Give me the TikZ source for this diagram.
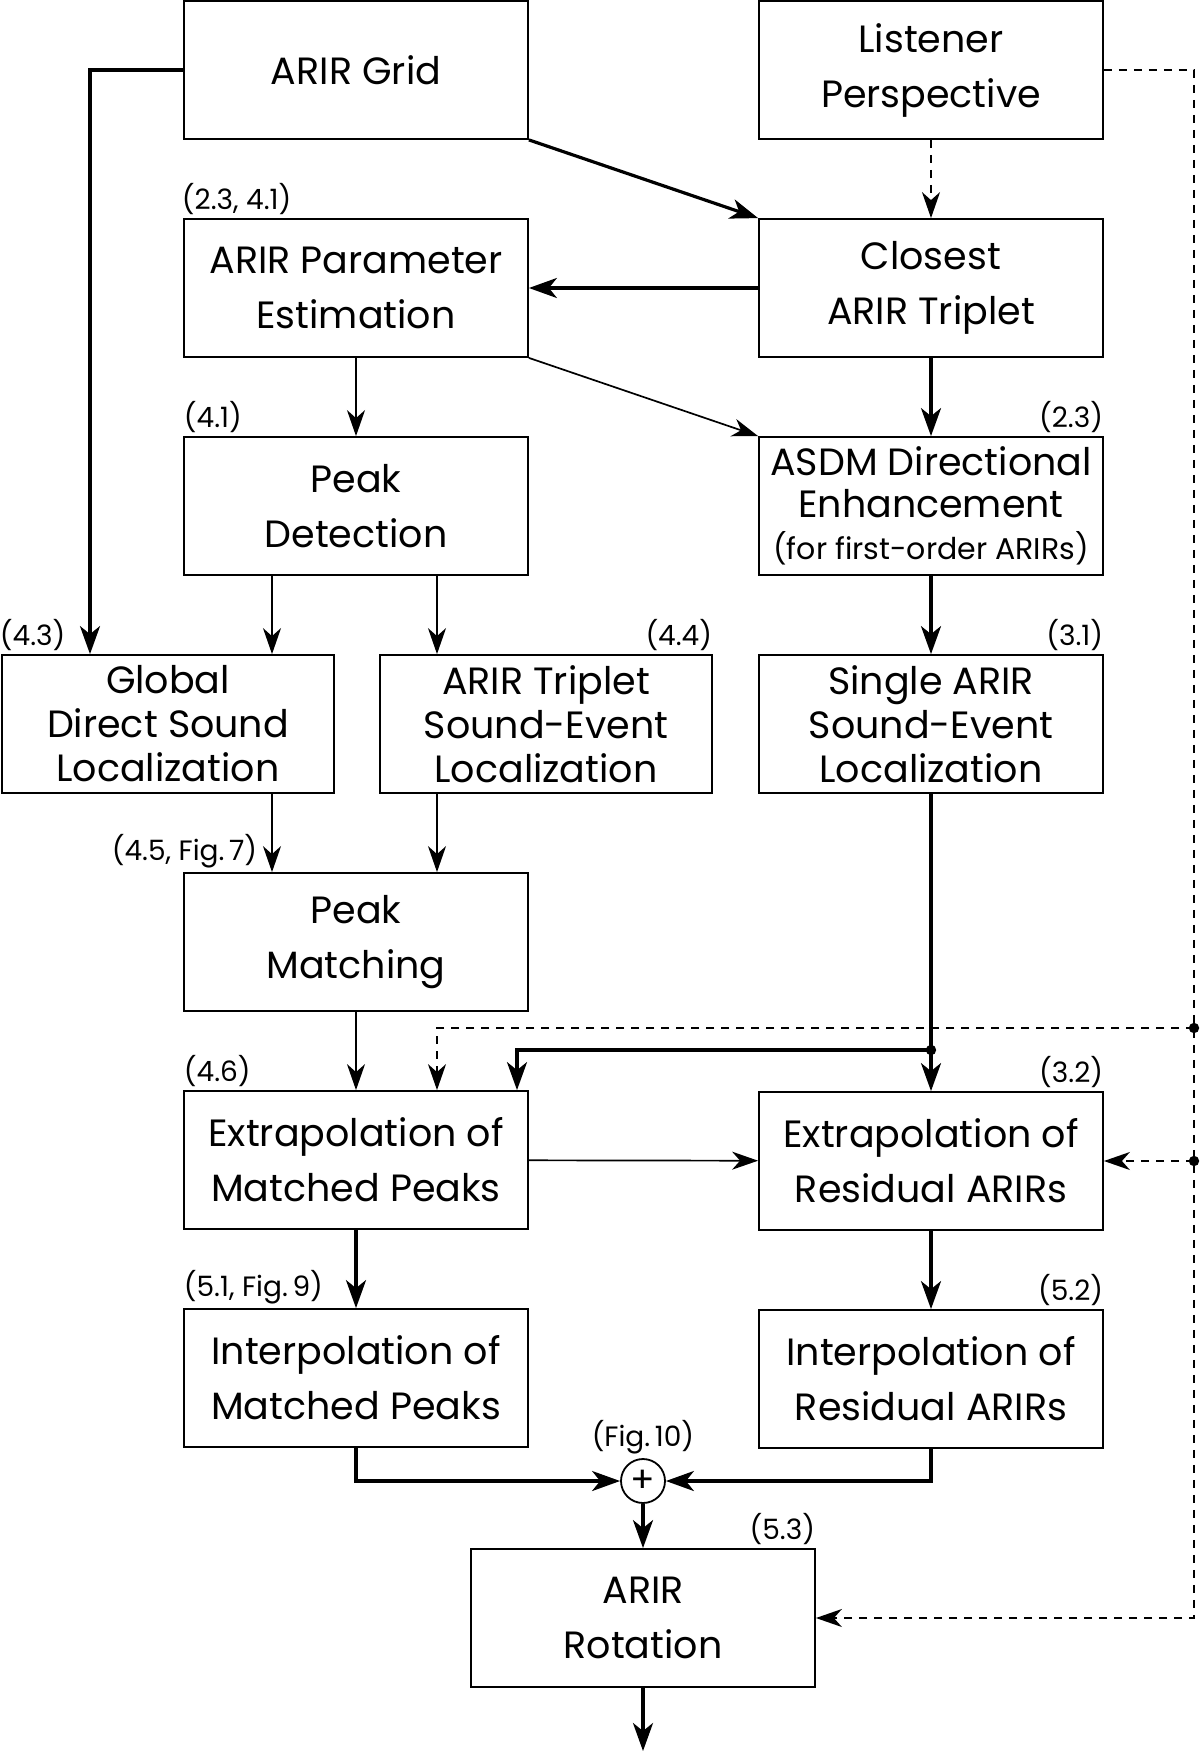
\documentclass[tikz,border=0pt]{standalone}
\usepackage{fontspec}
\setmainfont{Poppins}
\usetikzlibrary{arrows.meta}

\tikzset{
  blk/.style={draw, line width=0.9pt, minimum width=172pt, minimum height=69pt,
    inner sep=1pt, align=center, font=\fontsize{19}{27.5}\selectfont},
  blkn/.style={blk, minimum width=166pt, font=\fontsize{19}{22}\selectfont},
  blkt/.style={blk, font=\fontsize{19}{21}\selectfont},
  tag/.style={inner xsep=0pt, inner ysep=1.5pt, font=\fontsize{14}{15}\selectfont},
  thk/.style={line width=1.6pt, >={Stealth[length=14pt,width=10pt,inset=4pt]}},
  dsh/.style={line width=0.8pt, dash pattern=on 4pt off 3.5pt},
  sum/.style={circle, draw, line width=0.9pt, minimum size=22pt, inner sep=0pt,
    font=\fontsize{18}{18}\selectfont},
}

\begin{document}
\begin{tikzpicture}[x=0.5pt,y=-0.5pt,->,>={Stealth[length=13pt,width=9pt,inset=4pt]},
  line width=0.85pt,node distance=109pt]
\useasboundingbox (0,0) rectangle (1200,1751);

  % left column
  \node[blk] (grid) at (356,70)  {ARIR Grid};
  \node[blk] (param) [below of=grid]  {ARIR Parameter\\Estimation};
  \node[blk] (peak)  [below of=param] {Peak\\Detection};
  \node[blkn] (global)  [below of=peak, xshift=-94pt] {Global\\Direct Sound\\Localization};
  \node[blkn] (triplet) [below of=peak, xshift=95pt]  {ARIR Triplet\\Sound-Event\\Localization};
  \node[blk] (match) [below of=peak, node distance=218pt] {Peak\\Matching};
  \node[blk] (exm)   [below of=match] {Extrapolation of\\Matched Peaks};
  \node[blk] (inm)   [below of=exm]   {Interpolation of\\Matched Peaks};

  % right column
  \node[blk] (listener) at (931,70) {Listener\\Perspective};
  \node[blk] (closest) [below of=listener] {Closest\\ARIR Triplet};
  \node[blkt] (asdm)   [below of=closest] {ASDM Directional\\Enhancement\\{\fontsize{15}{21}\selectfont (for first-order ARIRs)}};
  \node[blkn] (single) [below of=asdm, minimum width=172pt] {Single ARIR\\Sound-Event\\Localization};
  \node[blk] (exr) [below of=single, node distance=218.5pt] {Extrapolation of\\Residual ARIRs};
  \node[blk] (inr) [below of=exr] {Interpolation of\\Residual ARIRs};

  % output
  \node[sum] (plus) at (643,1481) {+};
  \node[blk] (rot) [below of=plus, node distance=68.5pt] {ARIR\\Rotation};

  \coordinate (gx) at (90,0);
  \coordinate (ga) at (272,0);
  \coordinate (ta) at (437,0);
  \coordinate (ma) at (517,0);
  \coordinate (dx) at (1194,0);
  \coordinate (jn) at (931,1050);
  \coordinate (d1) at (1194,1028);
  \coordinate (out) at (643,1751);

  % section tags
  \node[tag, anchor=south west, xshift=-1pt] (t1) at (param.north west) {(2.3, 4.1)};
  \node[tag, anchor=south west] (t2) at (peak.north west) {(4.1)};
  \node[tag, anchor=south east] (t3) at (asdm.north east) {(2.3)};
  \node[tag, anchor=south west, xshift=-1pt] (t4) at (global.north west) {(4.3)};
  \node[tag, anchor=south east] (t5) at (triplet.north east) {(4.4)};
  \node[tag, anchor=south east] (t6) at (single.north east) {(3.1)};
  \node[tag, anchor=south east, xshift=-7pt] (t7) at (ga |- match.north) {(4.5, Fig.\,7)};
  \node[tag, anchor=south west] (t8) at (exm.north west) {(4.6)};
  \node[tag, anchor=south east] (t9) at (exr.north east) {(3.2)};
  \node[tag, anchor=south west] (t10) at (inm.north west) {(5.1, Fig.\,9)};
  \node[tag, anchor=south east] (t11) at (inr.north east) {(5.2)};
  \node[tag, anchor=south] (t12) at (plus.north) {(Fig.\,10)};
  \node[tag, anchor=south east] (t13) at (rot.north east) {(5.3)};

  % connections
  \draw[thk] (grid.west) -| (gx |- global.north);
  \draw[thk] (grid.south east) -- (closest.north west);
  \draw[dsh] (listener) -- (closest);
  \draw[thk] (closest) -- (param);
  \draw (param) -- (peak);
  \draw (param.south east) -- (asdm.north west);
  \draw[thk] (closest) -- (asdm);
  \draw[thk] (asdm) -- (single);
  \draw (peak.south -| ga) -- (global.north -| ga);
  \draw (peak.south -| ta) -- (triplet.north -| ta);
  \draw (global.south -| ga) -- (match.north -| ga);
  \draw (triplet.south -| ta) -- (match.north -| ta);
  \draw (match) -- (exm);
  \draw[thk] (single) -- (exr);
  \draw[thk] (jn) -| (ma |- exm.north);
  \fill (jn) circle (2.6pt);
  \draw[dsh] (listener.east) -| (dx |- rot) -- (rot.east);
  \draw[dsh] (d1) -| (ta |- exm.north);
  \fill (d1) circle (2.6pt);
  \draw[dsh] (dx |- exr) -- (exr.east);
  \fill (dx |- exr) circle (2.6pt);
  \draw (exm) -- (exr);
  \draw[thk] (exm) -- (inm);
  \draw[thk] (exr) -- (inr);
  \draw[thk] (inm) |- (plus);
  \draw[thk] (inr) |- (plus);
  \draw[thk] (plus) -- (rot);
  \draw[thk] (rot) -- (out);
\end{tikzpicture}
\end{document}
